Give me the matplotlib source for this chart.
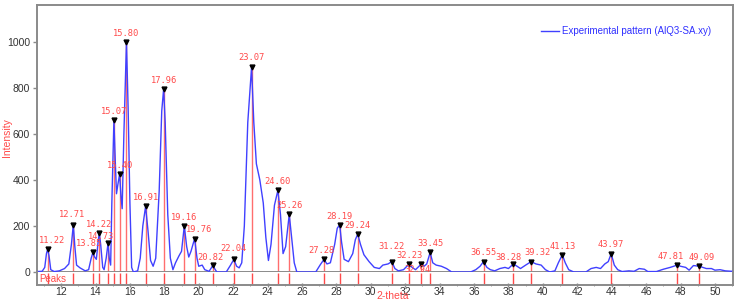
import numpy as np
import matplotlib
matplotlib.use("Agg")
import matplotlib.pyplot as plt

# experimental pattern
two_theta = [10.6, 10.9, 11.05, 11.15, 11.22, 11.3, 11.4, 11.6, 11.9, 12.2, 12.45, 12.6, 12.71, 12.8, 12.9,
             13.1, 13.4, 13.6, 13.75, 13.85, 13.95, 14.05, 14.15, 14.22, 14.3, 14.42, 14.5, 14.62, 14.73, 14.8,
             14.88, 14.95, 15.07, 15.15, 15.22, 15.3, 15.4, 15.48, 15.55, 15.65, 15.8, 15.9, 16.0, 16.1, 16.2,
             16.45, 16.6, 16.75, 16.91, 17.05, 17.2, 17.35, 17.5, 17.7, 17.85, 17.96, 18.05, 18.2, 18.35, 18.5,
             18.65, 18.85, 19.0, 19.16, 19.3, 19.42, 19.55, 19.76, 19.9, 20.0, 20.2, 20.35, 20.6, 20.75, 20.82,
             20.92, 21.05, 21.6, 21.85, 22.04, 22.2, 22.35, 22.5, 22.65, 22.85, 23.07, 23.2, 23.35, 23.55, 23.75,
             23.9, 24.05, 24.2, 24.4, 24.6, 24.75, 24.9, 25.05, 25.26, 25.4, 25.55, 25.7, 26.8, 27.05, 27.28,
             27.45, 27.65, 27.9, 28.05, 28.19, 28.3, 28.45, 28.7, 28.95, 29.1, 29.24, 29.4, 29.6, 29.9, 30.2,
             30.5, 30.7, 31.0, 31.22, 31.4, 31.6, 31.9, 32.1, 32.23, 32.4, 32.6, 32.8, 32.94, 33.1, 33.25,
             33.45, 33.6, 33.8, 34.1, 34.4, 34.7, 35.8, 36.1, 36.35, 36.55, 36.75, 36.95, 37.2, 37.5, 37.8,
             38.0, 38.28, 38.5, 38.7, 39.0, 39.32, 39.6, 39.9, 40.15, 40.4, 40.7, 40.9, 41.13, 41.3, 41.5,
             41.8, 42.5, 42.8, 43.1, 43.35, 43.6, 43.8, 43.97, 44.15, 44.35, 44.6, 45.0, 45.3, 45.6, 45.9,
             46.1, 46.6, 47.0, 47.4, 47.6, 47.81, 48.0, 48.3, 48.5, 48.75, 49.09, 49.3, 49.5, 49.8, 50.0,
             50.3, 50.6, 51.0]
intensity = [2, 3, 20, 80, 100, 70, 10, 2, 5, 15, 35, 120, 205, 110, 30,
             18, 5, 10, 60, 85, 65, 55, 130, 170, 120, 20, 10, 60, 125, 60,
             30, 300, 660, 480, 340, 380, 425, 330, 275, 600, 1000, 700, 300, 20, 0,
             5, 60, 200, 285, 180, 50, 25, 60, 350, 700, 795, 650, 250, 60, 10,
             40, 70, 90, 200, 110, 65, 90, 145, 60, 25, 30, 10, 3, 20, 30,
             15, 0, 0, 30, 55, 25, 18, 40, 200, 650, 890, 650, 470, 400, 300,
             150, 50, 120, 290, 355, 250, 80, 110, 250, 150, 40, 0, 0, 30, 55,
             35, 40, 120, 190, 205, 130, 55, 45, 80, 140, 165, 120, 75, 45, 20,
             15, 30, 35, 45, 15, 5, 10, 25, 35, 20, 10, 25, 35, 25, 35,
             85, 40, 30, 25, 15, 0, 0, 10, 25, 45, 20, 10, 5, 15, 20,
             15, 35, 25, 15, 30, 45, 35, 30, 10, 0, 5, 40, 75, 40, 10,
             0, 0, 15, 20, 15, 35, 45, 80, 30, 10, 2, 5, 3, 15, 12,
             2, 2, 12, 20, 25, 30, 25, 20, 8, 28, 25, 20, 15, 15, 8,
             10, 5, 3]

# identified peaks
peak_pos = [11.22, 12.71, 13.85, 14.22, 14.73, 15.07, 15.40, 15.80, 16.91, 17.96, 19.16, 19.76, 20.82,
            22.04, 23.07, 24.60, 25.26, 27.28, 28.19, 29.24, 31.22, 32.23, 32.94, 33.45, 36.55, 38.28,
            39.32, 41.13, 43.97, 47.81, 49.09]
peak_int = [100, 205, 85, 170, 125, 660, 425, 1000, 285, 795, 200, 145, 30,
            55, 890, 355, 250, 55, 205, 165, 45, 35, 35, 85, 45, 35,
            45, 75, 80, 30, 25]
peak_lbl = ["%.2f" % p for p in peak_pos]

# label nudges (points) where the labels sit off-centre in the original
nudge = {'11.22': (3, 3), '12.71': (-1, 4.5), '13.85': (-2.5, 3), '14.73': (-5, 1.5),
         '19.76': (3, 3), '20.82': (-1.5, 2.5), '22.04': (0, 4.5), '23.07': (0, 4),
         '27.28': (-1.5, 3), '31.22': (0, 8), '32.94': (-3, -1), '38.28': (-3.5, 1.5),
         '39.32': (4.5, 3), '47.81': (-5, 3), '49.09': (2, 3)}

red = '#ff4a4a'
grey = '#8a8a8a'
plt.rcParams['font.family'] = ['Liberation Sans', 'DejaVu Sans']

fig = plt.figure(figsize=(7.39, 3.01), dpi=100)
ax = fig.add_axes([37/739, 1-272/301, 696/739, 267/301])
axp = fig.add_axes([37/739, 1-285/301, 696/739, 13/301], sharex=ax)

ax.vlines(peak_pos, 0, peak_int, color=red, lw=1, alpha=0.8, zorder=2)
ax.plot(two_theta, intensity, color='#4040ff', lw=1, zorder=3,
        label='Experimental pattern (AlQ3-SA.xy)')
ax.plot(peak_pos, peak_int, 'v', color='black', ms=3.5, zorder=4, clip_on=False)

for p, h, s in zip(peak_pos, peak_int, peak_lbl):
    dx, dy = nudge.get(s, (0, 3))
    ax.annotate(s, (p, h), xytext=(dx, dy), textcoords='offset points', ha='center',
                va='bottom' if dy > 0 else 'top',
                color=red, fontsize=6.3, family='DejaVu Sans Mono', zorder=5)

ax.set_xlim(10.6, 51.05)
ax.set_ylim(0, 1160)
ax.set_yticks([0, 200, 400, 600, 800, 1000])
ax.tick_params(axis='y', labelsize=7.5, labelcolor='#333333', color=grey, length=3, width=1, pad=2)
ax.tick_params(axis='x', bottom=False, labelbottom=False)
fig.text(7/739, 1-138/301, 'Intensity', rotation=90, color=red, fontsize=7.5, ha='center', va='center')
for sp in ax.spines.values():
    sp.set_color(grey)
    sp.set_linewidth(1.4)

leg = ax.legend(loc='upper right', frameon=False, fontsize=7, handlelength=1.8, borderaxespad=1.8,
                handletextpad=0.4)
for t in leg.get_texts():
    t.set_color('#3030ff')

axp.vlines(peak_pos, 0.1, 0.9, color=red, lw=1)
axp.set_ylim(0, 1)
axp.set_yticks([])
axp.text(10.75, 0.5, 'Peaks', color=red, fontsize=7, va='center', ha='left')
axp.set_xticks(np.arange(12, 51, 2))
axp.set_xticks(np.arange(11, 52, 2), minor=True)
axp.tick_params(axis='x', direction='inout', labelsize=7.5, labelcolor='#333333', color=grey,
                length=3, width=1, pad=0)
axp.tick_params(axis='x', which='minor', direction='inout', length=2, color=grey)
fig.text(393/739, 1-296/301, '2-theta', color=red, fontsize=7.5, ha='center', va='center')
for sp in axp.spines.values():
    sp.set_color(grey)
    sp.set_linewidth(1.4)
axp.spines['top'].set_visible(False)

fig.savefig('out.png', dpi=100)
